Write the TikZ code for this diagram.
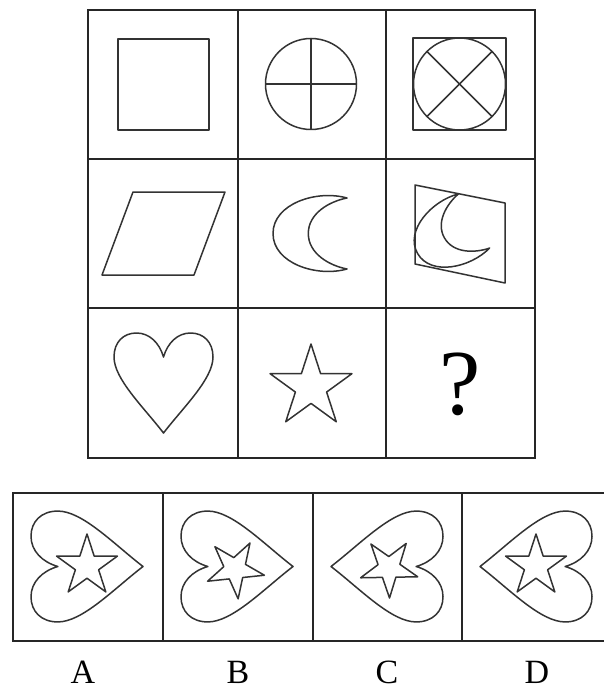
\documentclass[tikz,border=0pt]{standalone}
\usepackage{fontspec}
\setmainfont{Liberation Serif}
\tikzset{
  frame/.style={line width=2pt, black!85},
  figure/.style={line width=1.5pt, black!80, line join=round},
}
% shapes in cell units (1 = 1 pixel of the sheet, y pointing down)
\newcommand{\heartpath}{(0,50) .. controls (-20,24) and (-49.5,-4) .. (-49.5,-26)
  .. controls (-49.5,-41) and (-40,-50) .. (-27,-50) .. controls (-14,-50) and (-4,-40) .. (0,-26)
  .. controls (4,-40) and (14,-50) .. (27,-50) .. controls (40,-50) and (49.5,-41) .. (49.5,-26)
  .. controls (49.5,-4) and (20,24) .. (0,50) -- cycle}
\newcommand{\moonpath}{(0,-35.5) .. controls (-30,-44) and (-74,-30) .. (-74,0)
  .. controls (-74,30) and (-30,44) .. (0,35.5) .. controls (-18,32) and (-38.7,20) .. (-38.7,0)
  .. controls (-38.7,-20) and (-18,-32) .. (0,-35.5) -- cycle}
\newcommand{\starpath}[2]{(-90:#1) \foreach \a in {-90,-18,54,126,198} { -- (\a:#1) -- (\a+36:#2) } -- cycle}
\begin{document}
\begin{tikzpicture}[x=1pt, y=-1pt]
    \useasboundingbox (0,0) rectangle (604,690);
    % 3x3 grid
    \draw[frame] (88,10) rectangle (535,458);
    \foreach \x in {238,386} \draw[frame] (\x,10) -- (\x,458);
    \foreach \y in {159,308} \draw[frame] (88,\y) -- (535,\y);
    % row 1
    \draw[figure] (118,39) rectangle (209,130);
    \coordinate (ring) at (311,84);
    \draw[figure] (ring) circle (45.5);
    \draw[figure] ([xshift=-45.5pt]ring) -- ([xshift=45.5pt]ring);
    \draw[figure] ([yshift=-45.5pt]ring) -- ([yshift=45.5pt]ring);
    \draw[figure] (413,38) rectangle (506,130);
    \coordinate (boxring) at (459.5,84);
    \draw[figure] (boxring) circle (46);
    \draw[figure] (boxring) ++(-32.5,-32.5) -- ++(65,65);
    \draw[figure] (boxring) ++(32.5,-32.5) -- ++(-65,65);
    % row 2
    \draw[figure] (133,192) -- (225,192) -- (194,275) -- (102,275) -- cycle;
    \draw[figure, shift={(347,233.5)}] \moonpath;
    \draw[figure] (415,185) -- (505,203) -- (505,283) -- (415,264) -- cycle;
    \draw[figure, shift={(474,221)}, rotate=30, scale=0.88] \moonpath;
    % row 3
    \draw[figure, shift={(163.5,383)}] \heartpath;
    \draw[figure, shift={(311,387)}] \starpath{43}{16.4};
    \node (qmark) at (460,384) {\fontsize{93}{100}\selectfont ?};
    % answer strip
    \draw[frame] (604,493) -- (13,493) -- (13,641) -- (604,641);
    \foreach \x in {163,313,462} \draw[frame] (\x,493) -- (\x,641);
    \foreach \hx/\hrot/\sx/\sy/\srad/\srot in {87/90/87/566/32/0, 237/90/235/569/30/186,
        387/-90/389/568/30/181, 536/-90/536/566/32/0} {
      \draw[figure, shift={(\hx,566.5)}, rotate=\hrot, scale=1.12] \heartpath;
      \draw[figure, shift={(\sx,\sy)}, rotate=\srot] \starpath{\srad}{0.382*\srad};
    }
    \foreach \lx/\lab in {83/A, 238/B, 387/C, 537/D}
      \node[anchor=base, inner sep=0pt, font=\fontsize{34}{40}\selectfont] (lab\lab) at (\lx,683) {\lab};
\end{tikzpicture}
\end{document}
